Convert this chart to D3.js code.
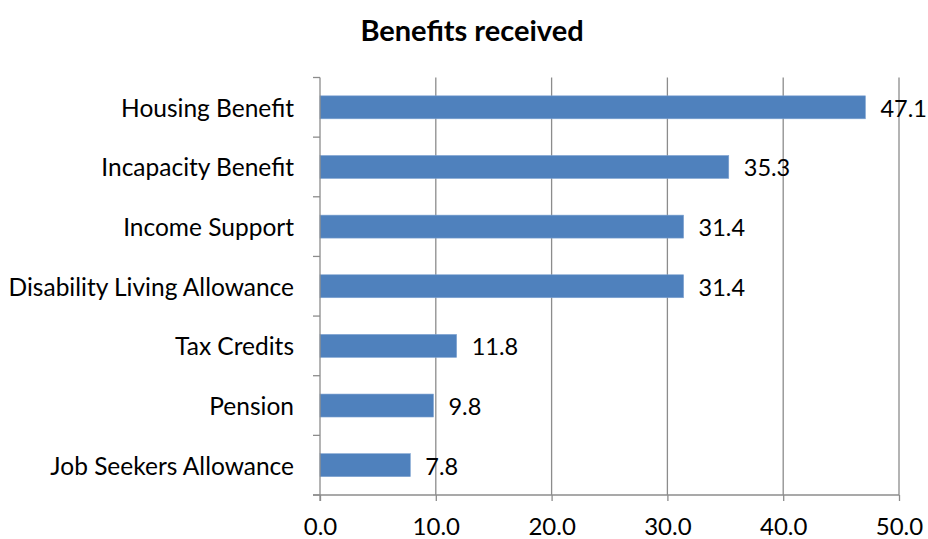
<!DOCTYPE html>
<html>
<head>
<meta charset="utf-8">
<script src="https://cdn.jsdelivr.net/npm/d3@7"></script>
<style>
  html, body { margin: 0; padding: 0; background: #fff; }
  svg { display: block; }
  text { font-family: Lato, "Open Sans", sans-serif; fill: #000; }
</style>
</head>
<body>
<svg id="chart" width="928" height="539"></svg>
<script>
// Benefits received, percentage of respondents
const categories = [
  "Housing Benefit",
  "Incapacity Benefit",
  "Income Support",
  "Disability Living Allowance",
  "Tax Credits",
  "Pension",
  "Job Seekers Allowance"
];
const values = [47.1, 35.3, 31.4, 31.4, 11.8, 9.8, 7.8];
const xTicks = [0, 10, 20, 30, 40, 50];
const title = "Benefits received";

const svg = d3.select("#chart");
const margin = { left: 320, right: 29, top: 77.5, bottom: 44 };
const W = 928, H = 539;
const fontFamily = "Lato, 'Open Sans', sans-serif";
const labelSize = 24.5;
const tickSize = 24;
const valueSize = 23.5;
const baselineShift = 9.5;

const x = d3.scaleLinear().domain([0, 50]).range([margin.left, W - margin.right]);
const y = d3.scaleBand().domain(categories).range([margin.top, H - margin.bottom]).paddingInner(0.615).paddingOuter(0.3075);

const axisColor = "#8c8c8c";

// vertical gridlines
svg.append("g")
  .selectAll("line")
  .data(xTicks.filter(d => d > 0))
  .join("line")
  .attr("x1", d => x(d)).attr("x2", d => x(d))
  .attr("y1", margin.top).attr("y2", H - margin.bottom)
  .attr("stroke", axisColor).attr("stroke-width", 1.3);

// bars
svg.append("g")
  .selectAll("rect")
  .data(values)
  .join("rect")
  .attr("x", x(0))
  .attr("y", (d, i) => y(categories[i]))
  .attr("width", d => x(d) - x(0))
  .attr("height", y.bandwidth())
  .attr("fill", "#4f81bd")
  .attr("stroke", "#7fa3d1")
  .attr("stroke-width", 0.6);

// value labels
svg.append("g")
  .selectAll("text")
  .data(values)
  .join("text")
  .attr("x", d => x(d) + 15)
  .attr("y", (d, i) => y(categories[i]) + y.bandwidth() / 2 + baselineShift)
  .attr("font-size", valueSize)
  .text(d => d3.format(".1f")(d));

// x axis
const xAxis = d3.axisBottom(x)
  .tickValues(xTicks)
  .tickFormat(d3.format(".1f"))
  .tickSize(6)
  .tickPadding(17);
const gx = svg.append("g")
  .attr("transform", `translate(0,${H - margin.bottom})`)
  .call(xAxis);
gx.select(".domain").attr("stroke", axisColor).attr("stroke-width", 1.3)
  .attr("d", `M${x(0) - 7},0H${x(50)}`);
gx.selectAll(".tick line").attr("stroke", axisColor).attr("stroke-width", 1.3);
gx.selectAll(".tick text").attr("font-size", tickSize).attr("font-family", fontFamily).attr("fill", "#000");

// y axis: ticks at band boundaries
const bounds = categories.map(c => y(c) - y.step() * y.paddingInner() / 2);
bounds.push(H - margin.bottom);
const gy = svg.append("g");
gy.append("line")
  .attr("x1", x(0)).attr("x2", x(0))
  .attr("y1", margin.top).attr("y2", H - margin.bottom + 6)
  .attr("stroke", axisColor).attr("stroke-width", 1.3);
gy.selectAll("line.tick")
  .data(bounds)
  .join("line")
  .attr("class", "tick")
  .attr("x1", x(0) - 7).attr("x2", x(0))
  .attr("y1", d => d).attr("y2", d => d)
  .attr("stroke", axisColor).attr("stroke-width", 1.3);

// category labels
gy.selectAll("text")
  .data(categories)
  .join("text")
  .attr("x", 294)
  .attr("y", d => y(d) + y.bandwidth() / 2 + baselineShift)
  .attr("text-anchor", "end")
  .attr("font-size", labelSize)
  .text(d => d);

// title
svg.append("text")
  .attr("x", 472)
  .attr("y", 41)
  .attr("text-anchor", "middle")
  .attr("font-size", 29)
  .attr("font-weight", "bold")
  .text(title);
</script>
</body>
</html>
